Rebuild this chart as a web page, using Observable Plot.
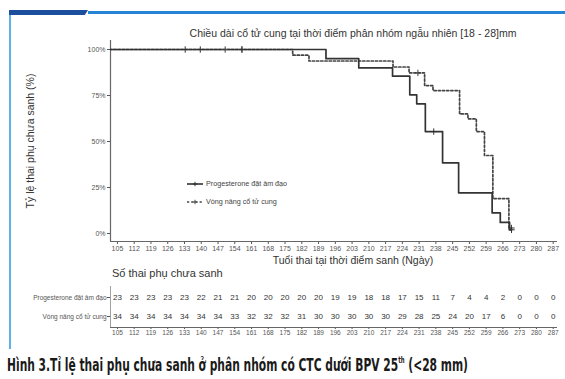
<!DOCTYPE html>
<html><head><meta charset="utf-8">
<script src="https://cdn.jsdelivr.net/npm/d3@7"></script>
<script src="https://cdn.jsdelivr.net/npm/@observablehq/plot@0.6"></script>
<style>
html,body{margin:0;padding:0;background:#fff;}
#card{position:relative;width:565px;height:379px;overflow:hidden;background:#fff;font-family:"Liberation Sans",Arial,sans-serif;color:#333;}
.abs{position:absolute;white-space:nowrap;line-height:1;}
.c{transform:translate(-50%,-50%);}
#card svg{position:absolute;left:0;overflow:visible;}
</style></head><body><div id="card"></div>
<script>
// ---- data ----
const xTicks = [105,112,119,126,133,140,147,154,161,168,175,182,189,196,203,210,217,224,231,238,245,252,259,266,273,280,287];
const yTicks = [0, 0.25, 0.5, 0.75, 1];
const groups = ["Progesterone đặt âm đạo", "Vòng nâng cổ tử cung"];
// Kaplan-Meier steps (day, survival)
const progTime = [0, 192.1, 205.8, 219.9, 227.1, 230.0, 233.6, 240.8, 247.5, 261.5, 264.9, 268.8, 269.6];
const progSurv = [1, 0.95, 0.90, 0.855, 0.754, 0.705, 0.554, 0.384, 0.221, 0.112, 0.06, 0.02, 0.02];
const progCensor = [133.3, 139.6, 157, 237.1, 269.6];
const vongTime = [0, 178.2, 185, 220.1, 226.8, 233.3, 236.8, 247.9, 251.4, 254.9, 258.3, 261.8, 268.5, 269.6];
const vongSurv = [1, 0.969, 0.9375, 0.905, 0.873, 0.804, 0.777, 0.65, 0.623, 0.554, 0.424, 0.19, 0.03, 0.03];
const vongCensor = [150, 157, 230.5, 269.6];
// number at risk
const progAtRisk = [23,23,23,23,23,22,21,21,20,20,20,20,20,19,19,18,18,17,15,11,7,4,4,2,0,0,0];
const vongAtRisk = [34,34,34,34,34,34,34,33,32,32,32,31,30,30,30,30,30,29,28,25,24,20,17,6,0,0,0];

const title = "Chiều dài cổ tử cung tại thời điểm phân nhóm ngẫu nhiên [18 - 28]mm";
const yLabel = "Tỷ lệ thai phụ chưa sanh (%)";
const xLabel = "Tuổi thai tại thời điểm sanh (Ngày)";
const tableTitle = "Số thai phụ chưa sanh";
const captionMain = "Hình 3.Tỉ lệ thai phụ chưa sanh ở phân nhóm có CTC dưới BPV 25";
const captionSup = "th";
const captionEnd = " (<28 mm)";

// ---- build ----
const xDomain = [102.1, 288.8];
const stepAt = (times, surv, t) => { let v = surv[0]; for (let i = 0; i < times.length; i++) if (times[i] <= t) v = surv[i]; return v; };
const progRows = progTime.map((t, i) => ({t, s: progSurv[i]}));
const vongRows = vongTime.map((t, i) => ({t, s: vongSurv[i]}));
const progC = progCensor.map(t => ({t, s: stepAt(progTime, progSurv, t)}));
const vongC = vongCensor.map(t => ({t, s: stepAt(vongTime, vongSurv, t)}));
const font = "'Liberation Sans', Arial, sans-serif";

const card = document.getElementById("card");

const main = Plot.plot({
  width: 565, height: 262,
  marginLeft: 110, marginRight: 8, marginTop: 40, marginBottom: 21,
  style: {fontFamily: font, fontSize: "7px", color: "#555", background: "transparent"},
  x: {domain: xDomain, ticks: xTicks, tickSize: 3, tickPadding: 2, label: null},
  y: {domain: [-0.0435, 1.049], ticks: yTicks, tickSize: 3, tickPadding: 2, tickFormat: d => Math.round(d * 100) + "%", label: null},
  marks: [
    Plot.ruleX([xDomain[0]], {stroke: "#666", strokeWidth: 1.2}),
    Plot.ruleY([-0.0435], {stroke: "#666", strokeWidth: 1.2}),
    Plot.line(vongRows, {x: "t", y: "s", curve: "step-after", stroke: "#444", strokeWidth: 1.7, strokeDasharray: "2.2,2", clip: true}),
    Plot.line(progRows, {x: "t", y: "s", curve: "step-after", stroke: "#333", strokeWidth: 1.7, clip: true}),
    Plot.dot(vongC, {x: "t", y: "s", symbol: "plus", r: 2.2, stroke: "#444", strokeWidth: 1}),
    Plot.dot(progC, {x: "t", y: "s", symbol: "plus", r: 2.2, stroke: "#333", strokeWidth: 1})
  ]
});
main.style.top = "0px";
card.appendChild(main);

const tableRows = [
  ...progAtRisk.map((n, i) => ({t: xTicks[i], row: 1, n})),
  ...vongAtRisk.map((n, i) => ({t: xTicks[i], row: 2, n}))
];
const table = Plot.plot({
  width: 565, height: 72,
  marginLeft: 110, marginRight: 8, marginTop: 16, marginBottom: 15,
  style: {fontFamily: font, fontSize: "6.5px", color: "#555", background: "transparent"},
  x: {domain: xDomain, ticks: xTicks, tickSize: 2, tickPadding: 1, label: null},
  y: {domain: [0.42, 2.58], reverse: true, ticks: [1, 2], tickSize: 3, tickPadding: 1, tickFormat: i => groups[i - 1], label: null},
  marks: [
    Plot.ruleX([xDomain[0]], {stroke: "#888", strokeWidth: 0.8}),
    Plot.ruleY([2.58], {stroke: "#666", strokeWidth: 1.2}),
    Plot.text(tableRows, {x: "t", y: "row", text: "n", fontSize: 8, fill: "#333"})
  ]
});
table.style.top = "270px";
card.appendChild(table);

function addText(txt, css, cls) {
  const d = document.createElement("div");
  d.className = "abs " + (cls || "");
  d.textContent = txt;
  Object.assign(d.style, css);
  card.appendChild(d);
  return d;
}
// decorations
const deco = (css) => { const d = document.createElement("div"); d.style.position = "absolute"; Object.assign(d.style, css); card.appendChild(d); };
deco({left: "88px", top: "11px", width: "477px", height: "3px", background: "#2585d4"});
deco({left: "9px", top: "10px", width: "79px", height: "5px", background: "#1d4f9f", clipPath: "polygon(0 0,100% 0,96% 100%,0 100%)"});
deco({left: "9px", top: "15px", width: "2px", height: "334px", background: "#5db2ea"});

addText(title, {left: "353px", top: "33px", fontSize: "10.5px", color: "#333"}, "c");
addText(xLabel, {left: "353px", top: "260px", fontSize: "10.5px", color: "#333"}, "c");
addText(yLabel, {left: "30px", top: "141px", fontSize: "10.5px", color: "#333", transform: "translate(-50%,-50%) rotate(-90deg)"});
addText(tableTitle, {left: "112px", top: "268px", fontSize: "11px", color: "#333"});

// legend
function legendItem(label, y, dash, color) {
  const d = document.createElement("div");
  d.className = "abs";
  Object.assign(d.style, {left: "187px", top: (y - 5) + "px", height: "10px", display: "flex", alignItems: "center", fontSize: "7.2px", color: "#444"});
  d.innerHTML = `<svg width="17" height="10" style="position:static;margin-right:2px"><line x1="0" y1="5" x2="16" y2="5" stroke="${color}" stroke-width="1.6" ${dash ? 'stroke-dasharray="2.2,2"' : ''}/><path d="M8,2.8V7.2M5.8,5H10.2" stroke="${color}" stroke-width="1"/></svg>`;
  const s = document.createElement("span"); s.textContent = label; d.appendChild(s);
  card.appendChild(d);
}
legendItem(groups[0], 184, false, "#333");
legendItem(groups[1], 202, true, "#444");

// caption
const cap = document.createElement("div");
cap.className = "abs";
Object.assign(cap.style, {left: "7px", top: "356px", fontSize: "18px", fontWeight: "bold", color: "#1a1a1a", fontFamily: "'Liberation Sans Narrow','DejaVu Sans Condensed',sans-serif", transformOrigin: "left top"});
cap.appendChild(document.createTextNode(captionMain));
const sup = document.createElement("span"); sup.textContent = captionSup;
Object.assign(sup.style, {fontSize: "9px", verticalAlign: "8px"});
cap.appendChild(sup);
cap.appendChild(document.createTextNode(captionEnd));
card.appendChild(cap);
const w = cap.getBoundingClientRect().width;
cap.style.transform = `scaleX(${461 / w})`;
</script></body></html>
